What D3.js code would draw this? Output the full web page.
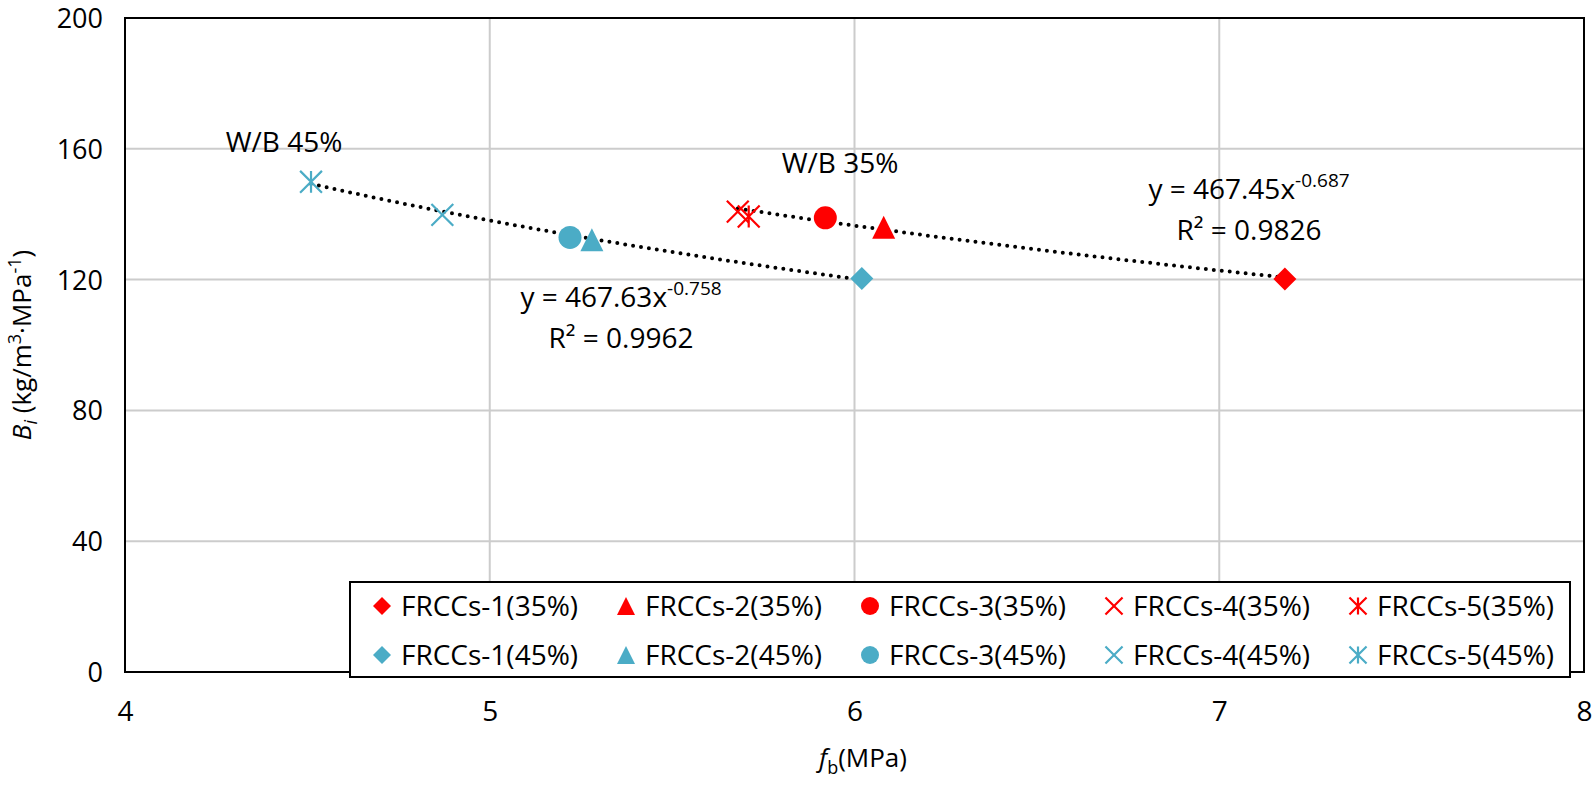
<!DOCTYPE html>
<html><head><meta charset="utf-8">
<script src="https://cdn.jsdelivr.net/npm/d3@7"></script>
<style>
html,body{margin:0;padding:0;background:#fff;}
svg{display:block;font-family:"Open Sans",sans-serif;}
</style></head>
<body><svg id="c" width="1594" height="787"></svg>
<script>
const labels = ["FRCCs-1","FRCCs-2","FRCCs-3","FRCCs-4","FRCCs-5"];
const shapes = ["diamond","triangle","circle","x","star"];
const fb35 = [7.18, 6.08, 5.92, 5.68, 5.71];
const bi35 = [120.2, 136.0, 138.9, 140.8, 139.3];
const fb45 = [6.02, 5.28, 5.22, 4.87, 4.51];
const bi45 = [120.3, 132.2, 132.9, 139.8, 149.9];
const xTicks = [4,5,6,7,8];
const yTicks = [0,40,80,120,160,200];
const groups = ["35%","45%"];
const trendA = [467.45, 467.63];
const trendB = [-0.687, -0.758];
const r2 = ["0.9826","0.9962"];

const colors = {"35%":"#FF0000","45%":"#4BACC6"};
const W=1594,H=787;
const m={l:125,r:1584,t:18,b:672};
const svg=d3.select("#c");
const x=d3.scaleLinear().domain([4,8]).range([m.l,m.r]);
const y=d3.scaleLinear().domain([0,200]).range([m.b,m.t]);

// grid
svg.append("g").selectAll("line").data(xTicks).join("line")
  .attr("x1",d=>x(d)).attr("x2",d=>x(d)).attr("y1",m.t).attr("y2",m.b)
  .attr("stroke","#cccccc").attr("stroke-width",2);
svg.append("g").selectAll("line").data(yTicks).join("line")
  .attr("x1",m.l).attr("x2",m.r).attr("y1",d=>y(d)).attr("y2",d=>y(d))
  .attr("stroke","#cccccc").attr("stroke-width",2);
// frame
svg.append("rect").attr("x",m.l).attr("y",m.t).attr("width",m.r-m.l).attr("height",m.b-m.t)
  .attr("fill","none").attr("stroke","#000").attr("stroke-width",2);

// axes
const xa=svg.append("g").attr("transform",`translate(0,${m.b+40})`)
  .call(d3.axisBottom(x).tickValues(xTicks).tickSize(0).tickFormat(d3.format("d")));
xa.select(".domain").remove();
xa.selectAll("text").attr("font-size",28).attr("font-family","Open Sans").attr("fill","#000").attr("dy","0.32em").attr("y",0);
const ya=svg.append("g").attr("transform",`translate(${m.l-22},0)`)
  .call(d3.axisLeft(y).tickValues(yTicks).tickSize(0).tickFormat(d3.format("d")));
ya.select(".domain").remove();
ya.selectAll("text").attr("font-size",27).attr("font-family","Open Sans").attr("fill","#000").attr("dy","0.35em").attr("x",0);

// axis titles
const xt=svg.append("text").attr("x",863).attr("y",767).attr("text-anchor","middle").attr("font-size",26);
xt.append("tspan").attr("font-style","italic").text("f");
xt.append("tspan").attr("font-size",18).attr("dy",7).text("b");
xt.append("tspan").attr("dy",-7).text("(MPa)");
const yt=svg.append("text").attr("transform",`translate(31,${(m.t+m.b)/2}) rotate(-90)`).attr("text-anchor","middle").attr("font-size",26);
yt.append("tspan").attr("font-style","italic").text("B");
yt.append("tspan").attr("font-style","italic").attr("font-size",18).attr("dy",6).text("i");
yt.append("tspan").attr("dy",-6).text(" (kg/m");
yt.append("tspan").attr("font-size",18).attr("dy",-10).text("3");
yt.append("tspan").attr("dy",10).text("·MPa");
yt.append("tspan").attr("font-size",18).attr("dy",-10).text("-1");
yt.append("tspan").attr("dy",10).text(")");

// symbols
function drawSym(g,shape,cx,cy,s,color){
  const h=s/2;
  if(shape==="diamond") g.append("path").attr("d",`M${cx},${cy-h}L${cx+h},${cy}L${cx},${cy+h}L${cx-h},${cy}Z`).attr("fill",color);
  else if(shape==="triangle") g.append("path").attr("d",`M${cx},${cy-h}L${cx+h},${cy+h}L${cx-h},${cy+h}Z`).attr("fill",color);
  else if(shape==="circle") g.append("circle").attr("cx",cx).attr("cy",cy).attr("r",h).attr("fill",color);
  else {
    const k=h*0.95;
    g.append("path").attr("d",`M${cx-k},${cy-k}L${cx+k},${cy+k}M${cx-k},${cy+k}L${cx+k},${cy-k}`+(shape==="star"?`M${cx},${cy-k}L${cx},${cy+k}`:""))
      .attr("stroke",color).attr("stroke-width",2.2).attr("fill","none");
  }
}

// trendlines
const fbs=[fb35,fb45];
groups.forEach((gname,gi)=>{
  const xs=fbs[gi];
  const x0=d3.min(xs),x1=d3.max(xs);
  const pts=d3.range(0,61).map(i=>{const xv=x0+(x1-x0)*i/60;return [xv,trendA[gi]*Math.pow(xv,trendB[gi])];});
  svg.append("path").datum(pts).attr("d",d3.line().x(d=>x(d[0])).y(d=>y(d[1])))
    .attr("fill","none").attr("stroke","#000").attr("stroke-width",4).attr("stroke-linecap","round").attr("stroke-dasharray","0 8");
});

// points
const pg=svg.append("g");
labels.forEach((l,i)=>{
  drawSym(pg,shapes[i],x(fb35[i]),y(bi35[i]),23,colors["35%"]);
  drawSym(pg,shapes[i],x(fb45[i]),y(bi45[i]),23,colors["45%"]);
});

// annotations
function ann(tx,ty,txt){svg.append("text").attr("x",tx).attr("y",ty).attr("text-anchor","middle").attr("font-size",28).text(txt);}
ann(284,152,"W/B 45%");
ann(840,173,"W/B 35%");
function eq(cx,cy,a,b,r){
  const t=svg.append("text").attr("x",cx).attr("y",cy).attr("text-anchor","middle").attr("font-size",28);
  t.append("tspan").text(`y = ${a}x`);
  t.append("tspan").attr("font-size",19).attr("dy",-12).text(b.toFixed(3));
  svg.append("text").attr("x",cx).attr("y",cy+41).attr("text-anchor","middle").attr("font-size",28).text(`R² = ${r}`);
}
eq(1249,199,trendA[0],trendB[0],r2[0]);
eq(621,307,trendA[1],trendB[1],r2[1]);

// legend
const lg=svg.append("g");
lg.append("rect").attr("x",350).attr("y",582).attr("width",1220).attr("height",95).attr("fill","#fff").attr("stroke","#000").attr("stroke-width",2);
groups.forEach((gname,gi)=>{
  labels.forEach((l,i)=>{
    const mx=382+i*244, my=gi===0?606:655;
    drawSym(lg,shapes[i],mx,my,18,colors[gname]);
    lg.append("text").attr("x",mx+19).attr("y",my).attr("dy","0.35em").attr("font-size",28).text(`${l}(${gname})`);
  });
});
</script></body></html>
